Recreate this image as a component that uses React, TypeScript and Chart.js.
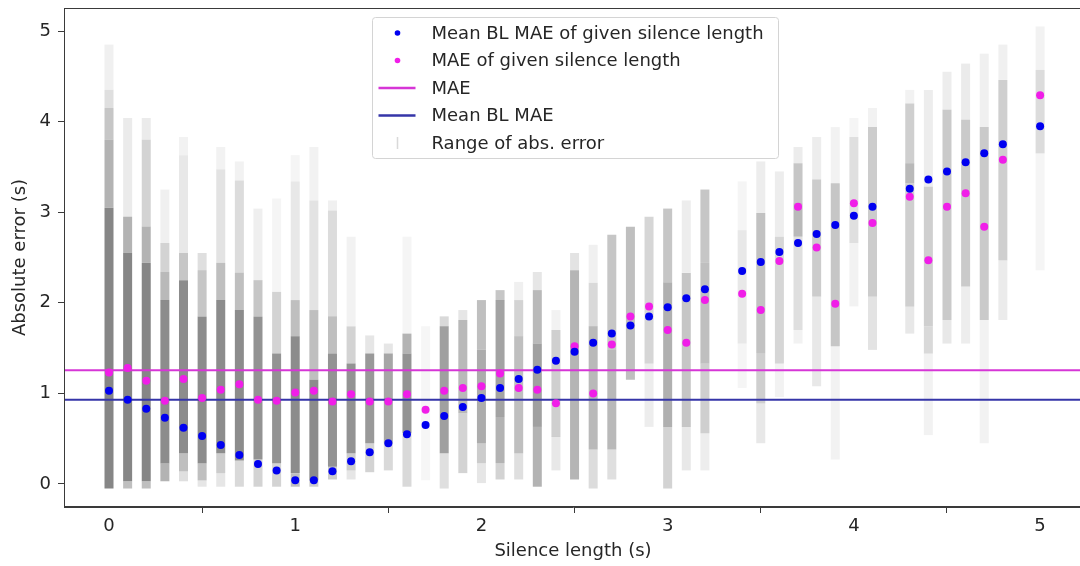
import React, { useEffect, useRef } from 'react';
import { Chart, registerables } from 'chart.js';

Chart.register(...registerables);

// ---- data ----
const silenceLengths = [
  0, 0.1, 0.2, 0.3, 0.4, 0.5, 0.6, 0.7, 0.8, 0.9,
  1.0, 1.1, 1.2, 1.3, 1.4, 1.5, 1.6, 1.7, 1.8, 1.9,
  2.0, 2.1, 2.2, 2.3, 2.4, 2.5, 2.6, 2.7, 2.8, 2.9,
  3.0, 3.1, 3.2, 3.4, 3.5, 3.6, 3.7, 3.8, 3.9, 4.0,
  4.1, 4.3, 4.4, 4.5, 4.6, 4.7, 4.8, 5.0,
];

const meanBlMaeByLength = [
  1.03, 0.93, 0.83, 0.73, 0.62, 0.53, 0.43, 0.32, 0.22, 0.15,
  0.04, 0.04, 0.14, 0.25, 0.35, 0.45, 0.55, 0.65, 0.75, 0.85,
  0.95, 1.06, 1.16, 1.26, 1.36, 1.46, 1.56, 1.66, 1.75, 1.85,
  1.95, 2.05, 2.15, 2.35, 2.45, 2.56, 2.66, 2.76, 2.86, 2.96,
  3.06, 3.26, 3.36, 3.45, 3.55, 3.65, 3.75, 3.95,
];

const maeByLength = [
  1.23, 1.28, 1.14, 0.92, 1.16, 0.95, 1.04, 1.10, 0.93, 0.92,
  1.01, 1.03, 0.91, 0.99, 0.91, 0.91, 0.99, 0.82, 1.03, 1.06,
  1.08, 1.22, 1.06, 1.04, 0.89, 1.52, 1.00, 1.54, 1.85, 1.96,
  1.70, 1.56, 2.03, 2.10, 1.92, 2.46, 3.06, 2.61, 1.99, 3.10,
  2.88, 3.17, 2.47, 3.06, 3.21, 2.84, 3.58, 4.29,
];

const overallMae = 1.255;
const overallMeanBlMae = 0.93;

// Range of absolute error per silence length: [low, high, density] bands
const errorRangeBands: number[][][] = [
  [[-0.05, 3.05, 0.95], [3.05, 3.8, 0.6], [3.8, 4.15, 0.45], [4.15, 4.35, 0.25], [4.35, 4.85, 0.12]],
  [[-0.05, 0.03, 0.5], [0.03, 2.55, 0.95], [2.55, 2.95, 0.6], [2.95, 4.04, 0.16]],
  [[-0.05, 0.03, 0.5], [0.03, 2.44, 0.95], [2.44, 2.84, 0.6], [2.84, 3.8, 0.35], [3.8, 4.04, 0.16]],
  [[0.03, 0.23, 0.6], [0.23, 2.03, 0.9], [2.03, 2.34, 0.55], [2.34, 2.66, 0.35], [2.66, 3.25, 0.12]],
  [[0.03, 0.14, 0.25], [0.14, 0.34, 0.5], [0.34, 2.25, 0.9], [2.25, 2.55, 0.45], [2.55, 3.63, 0.18], [3.63, 3.83, 0.1]],
  [[-0.03, 0.04, 0.2], [0.04, 0.23, 0.5], [0.23, 1.85, 0.9], [1.85, 2.36, 0.45], [2.36, 2.55, 0.25]],
  [[-0.03, 0.12, 0.2], [0.12, 0.34, 0.4], [0.34, 2.03, 0.9], [2.03, 2.44, 0.5], [2.44, 3.47, 0.22], [3.47, 3.72, 0.1]],
  [[-0.03, 0.26, 0.3], [0.26, 1.92, 0.9], [1.92, 2.33, 0.5], [2.33, 3.35, 0.28], [3.35, 3.56, 0.1]],
  [[-0.03, 0.27, 0.35], [0.27, 1.85, 0.85], [1.85, 2.25, 0.45], [2.25, 3.04, 0.13]],
  [[-0.03, 0.23, 0.35], [0.23, 1.44, 0.85], [1.44, 2.12, 0.35], [2.12, 3.15, 0.08]],
  [[-0.03, 0.12, 0.5], [0.12, 1.63, 0.9], [1.63, 2.03, 0.5], [2.03, 3.34, 0.18], [3.34, 3.63, 0.08]],
  [[-0.03, 0.04, 0.4], [0.04, 1.15, 0.9], [1.15, 1.92, 0.5], [1.92, 3.13, 0.22], [3.13, 3.72, 0.1]],
  [[0.05, 0.19, 0.4], [0.19, 1.44, 0.85], [1.44, 1.85, 0.5], [1.85, 3.02, 0.28], [3.02, 3.13, 0.12]],
  [[0.05, 0.15, 0.2], [0.15, 0.34, 0.4], [0.34, 1.33, 0.85], [1.33, 1.74, 0.35], [1.74, 2.73, 0.1]],
  [[0.13, 0.45, 0.35], [0.45, 1.44, 0.8], [1.44, 1.64, 0.2]],
  [[0.15, 0.45, 0.3], [0.45, 1.44, 0.7], [1.44, 1.55, 0.2]],
  [[-0.03, 0.56, 0.3], [0.56, 1.44, 0.85], [1.44, 1.66, 0.6], [1.66, 2.73, 0.08]],
  [[0.04, 1.74, 0.07]],
  [[-0.05, 0.34, 0.25], [0.34, 1.74, 0.75], [1.74, 1.85, 0.3]],
  [[0.12, 0.78, 0.35], [0.78, 1.81, 0.55], [1.81, 1.92, 0.2]],
  [[0.01, 0.23, 0.2], [0.23, 0.45, 0.4], [0.45, 1.48, 0.65], [1.48, 2.03, 0.5]],
  [[0.05, 0.23, 0.35], [0.23, 0.74, 0.6], [0.74, 2.03, 0.72], [2.03, 2.14, 0.45]],
  [[0.05, 0.34, 0.25], [0.34, 1.63, 0.5], [1.63, 2.03, 0.35], [2.03, 2.23, 0.12]],
  [[-0.03, 0.63, 0.6], [0.63, 1.55, 0.75], [1.55, 2.14, 0.55], [2.14, 2.34, 0.2]],
  [[0.15, 0.52, 0.18], [0.52, 1.7, 0.38], [1.7, 1.92, 0.1]],
  [[0.05, 2.36, 0.58], [2.36, 2.55, 0.22]],
  [[-0.05, 0.38, 0.28], [0.38, 1.74, 0.55], [1.74, 2.22, 0.3], [2.22, 2.64, 0.12]],
  [[0.05, 0.38, 0.25], [0.38, 1.48, 0.55], [1.48, 2.75, 0.45]],
  [[1.15, 2.84, 0.5]],
  [[0.63, 1.33, 0.14], [1.33, 2.95, 0.32]],
  [[-0.05, 0.63, 0.35], [0.63, 2.22, 0.62], [2.22, 3.04, 0.45]],
  [[0.15, 0.63, 0.18], [0.63, 2.33, 0.45], [2.33, 3.13, 0.14]],
  [[0.15, 0.56, 0.14], [0.56, 1.33, 0.38], [1.33, 2.44, 0.5], [2.44, 3.25, 0.45]],
  [[1.06, 1.55, 0.08], [1.55, 2.8, 0.18], [2.8, 3.34, 0.08]],
  [[0.45, 0.89, 0.18], [0.89, 1.44, 0.38], [1.44, 2.99, 0.48], [2.99, 3.56, 0.14]],
  [[0.96, 1.33, 0.1], [1.33, 2.73, 0.32], [2.73, 3.45, 0.14]],
  [[1.55, 1.7, 0.1], [1.7, 2.73, 0.25], [2.73, 3.1, 0.55], [3.1, 3.54, 0.45], [3.54, 3.72, 0.15]],
  [[1.08, 2.07, 0.18], [2.07, 3.36, 0.4], [3.36, 3.83, 0.14]],
  [[0.27, 1.52, 0.1], [1.52, 3.32, 0.45], [3.32, 3.94, 0.1]],
  [[1.96, 2.66, 0.1], [2.66, 3.83, 0.25], [3.83, 4.04, 0.08]],
  [[1.48, 2.07, 0.22], [2.07, 3.94, 0.4], [3.94, 4.15, 0.1]],
  [[1.66, 1.96, 0.18], [1.96, 3.32, 0.38], [3.32, 3.54, 0.55], [3.54, 4.2, 0.38], [4.2, 4.35, 0.1]],
  [[0.54, 1.44, 0.1], [1.44, 1.74, 0.3], [1.74, 3.28, 0.38], [3.28, 4.35, 0.14]],
  [[1.55, 1.81, 0.18], [1.81, 4.13, 0.42], [4.13, 4.55, 0.14]],
  [[1.55, 2.18, 0.14], [2.18, 4.02, 0.42], [4.02, 4.64, 0.16]],
  [[0.45, 1.81, 0.1], [1.81, 3.94, 0.42], [3.94, 4.75, 0.12]],
  [[1.81, 2.47, 0.16], [2.47, 4.46, 0.38], [4.46, 4.85, 0.12]],
  [[2.36, 3.65, 0.08], [3.65, 4.57, 0.28], [4.57, 5.05, 0.1]],
];

const xTickValues = [0, 1, 2, 3, 4, 5];
const yTickValues = [0, 1, 2, 3, 4, 5];
const xLimits = [-0.2417, 5.225];
const yLimits = [-0.254, 5.254];

const legendLabels = [
  'Mean BL MAE of given silence length',
  'MAE of given silence length',
  'MAE',
  'Mean BL MAE',
  'Range of abs. error',
];

const FONT = '"DejaVu Sans", "Liberation Sans", sans-serif';
const TEXT_COLOR = '#262626';
const SPINE_COLOR = '#3a3a3a';
const BLUE = '#0000f0';
const MAGENTA = '#f01ee8';
const MAE_LINE = '#d636d6';
const BL_LINE = '#3535a8';

const framePlugin = {
  id: 'frameAndLegend',
  afterDraw(chart: any) {
    const { ctx, chartArea: ca } = chart;
    ctx.save();
    // axes frame
    ctx.strokeStyle = SPINE_COLOR;
    ctx.lineWidth = 1;
    ctx.strokeRect(ca.left + 0.5, ca.top + 0.5, ca.right - ca.left - 1, ca.bottom - ca.top - 1);

    // legend
    const bx = ca.left + 308.5;
    const by = ca.top + 9.5;
    const bw = 406;
    const bh = 141;
    ctx.beginPath();
    if ((ctx as any).roundRect) (ctx as any).roundRect(bx, by, bw, bh, 3);
    else ctx.rect(bx, by, bw, bh);
    ctx.fillStyle = 'rgba(255,255,255,0.85)';
    ctx.fill();
    ctx.strokeStyle = '#d4d4d4';
    ctx.lineWidth = 1;
    ctx.stroke();

    const mx = bx + 25;
    const lx0 = bx + 6;
    const lx1 = bx + 43;
    const tx = bx + 59;
    const rows = [by + 15.5, by + 43, by + 70.5, by + 98, by + 125.5];

    ctx.fillStyle = BLUE;
    ctx.beginPath();
    ctx.arc(mx, rows[0], 2.8, 0, Math.PI * 2);
    ctx.fill();
    ctx.fillStyle = MAGENTA;
    ctx.beginPath();
    ctx.arc(mx, rows[1], 2.8, 0, Math.PI * 2);
    ctx.fill();

    ctx.lineWidth = 2.5;
    ctx.strokeStyle = MAE_LINE;
    ctx.beginPath();
    ctx.moveTo(lx0, rows[2]);
    ctx.lineTo(lx1, rows[2]);
    ctx.stroke();
    ctx.strokeStyle = BL_LINE;
    ctx.beginPath();
    ctx.moveTo(lx0, rows[3]);
    ctx.lineTo(lx1, rows[3]);
    ctx.stroke();

    ctx.strokeStyle = 'rgba(128,128,128,0.3)';
    ctx.lineWidth = 1.5;
    ctx.beginPath();
    ctx.moveTo(mx, rows[4] - 6);
    ctx.lineTo(mx, rows[4] + 6);
    ctx.stroke();

    ctx.fillStyle = TEXT_COLOR;
    ctx.font = `18px ${FONT}`;
    ctx.textBaseline = 'middle';
    ctx.textAlign = 'left';
    legendLabels.forEach((t, i) => ctx.fillText(t, tx, rows[i] + 1));
    ctx.restore();
  },
};

export default function App() {
  const canvasRef = useRef<HTMLCanvasElement | null>(null);

  useEffect(() => {
    const canvas = canvasRef.current;
    if (!canvas) return;

    const maxBands = Math.max(...errorRangeBands.map((b) => b.length));
    const barDatasets: any[] = [];
    for (let k = 0; k < maxBands; k++) {
      const data: any[] = [];
      const colors: string[] = [];
      errorRangeBands.forEach((bands, i) => {
        const band = bands[k];
        if (!band) return;
        data.push({ x: silenceLengths[i], y: [band[0], band[1]] });
        colors.push(`rgba(128,128,128,${band[2]})`);
      });
      barDatasets.push({
        type: 'bar',
        label: legendLabels[4],
        data,
        backgroundColor: colors,
        borderWidth: 0,
        grouped: false,
        maxBarThickness: 9,
        order: 10,
      });
    }

    const tickFont = { family: FONT, size: 18 };

    const chart = new Chart(canvas, {
      type: 'scatter',
      data: {
        datasets: [
          ...barDatasets,
          {
            type: 'line',
            label: legendLabels[2],
            data: [
              { x: xLimits[0], y: overallMae },
              { x: xLimits[1], y: overallMae },
            ],
            borderColor: MAE_LINE,
            borderWidth: 2,
            pointRadius: 0,
            order: 5,
          },
          {
            type: 'line',
            label: legendLabels[3],
            data: [
              { x: xLimits[0], y: overallMeanBlMae },
              { x: xLimits[1], y: overallMeanBlMae },
            ],
            borderColor: BL_LINE,
            borderWidth: 2,
            pointRadius: 0,
            order: 4,
          },
          {
            type: 'scatter',
            label: legendLabels[1],
            data: silenceLengths.map((x, i) => ({ x, y: maeByLength[i] })),
            backgroundColor: MAGENTA,
            borderWidth: 0,
            pointRadius: 4,
            order: 2,
          },
          {
            type: 'scatter',
            label: legendLabels[0],
            data: silenceLengths.map((x, i) => ({ x, y: meanBlMaeByLength[i] })),
            backgroundColor: BLUE,
            borderWidth: 0,
            pointRadius: 4,
            order: 1,
          },
        ] as any,
      },
      options: {
        responsive: false,
        animation: false,
        devicePixelRatio: 1,
        layout: { padding: { top: 8, right: 8, bottom: 0, left: 0 } },
        plugins: {
          legend: { display: false },
          tooltip: { enabled: false },
        },
        scales: {
          x: {
            type: 'linear',
            min: xLimits[0],
            max: xLimits[1],
            offset: false,
            grid: {
              drawOnChartArea: false,
              drawTicks: true,
              tickLength: 6,
              tickColor: SPINE_COLOR,
            },
            border: { color: SPINE_COLOR, width: 1 },
            ticks: { font: tickFont, color: TEXT_COLOR, padding: 3, maxRotation: 0 },
            afterBuildTicks: (s: any) => {
              s.ticks = xTickValues.map((v) => ({ value: v }));
            },
            afterFit: (s: any) => {
              s.height = 59;
              s.paddingLeft = 0;
              s.paddingRight = 0;
            },
            title: {
              display: true,
              text: 'Silence length (s)',
              font: tickFont,
              color: TEXT_COLOR,
              padding: { top: 0, bottom: 4 },
            },
          },
          y: {
            type: 'linear',
            min: yLimits[0],
            max: yLimits[1],
            grid: {
              drawOnChartArea: false,
              drawTicks: true,
              tickLength: 6,
              tickColor: SPINE_COLOR,
            },
            border: { color: SPINE_COLOR, width: 1 },
            ticks: { font: tickFont, color: TEXT_COLOR, padding: 7 },
            afterBuildTicks: (s: any) => {
              s.ticks = yTickValues.map((v) => ({ value: v }));
            },
            afterFit: (s: any) => {
              s.width = 64;
              s.paddingTop = 0;
              s.paddingBottom = 0;
            },
            title: {
              display: true,
              text: 'Absolute error (s)',
              font: tickFont,
              color: TEXT_COLOR,
              padding: { top: 10, bottom: 0 },
            },
          },
        },
      },
      plugins: [framePlugin],
    } as any);

    return () => chart.destroy();
  }, []);

  return (
    <div
      style={{
        position: 'fixed',
        left: 0,
        top: 0,
        width: 1080,
        height: 566,
        overflow: 'hidden',
        background: '#fff',
      }}
    >
      <canvas ref={canvasRef} width={1090} height={566} style={{ display: 'block', width: 1090, height: 566 }} />
    </div>
  );
}
